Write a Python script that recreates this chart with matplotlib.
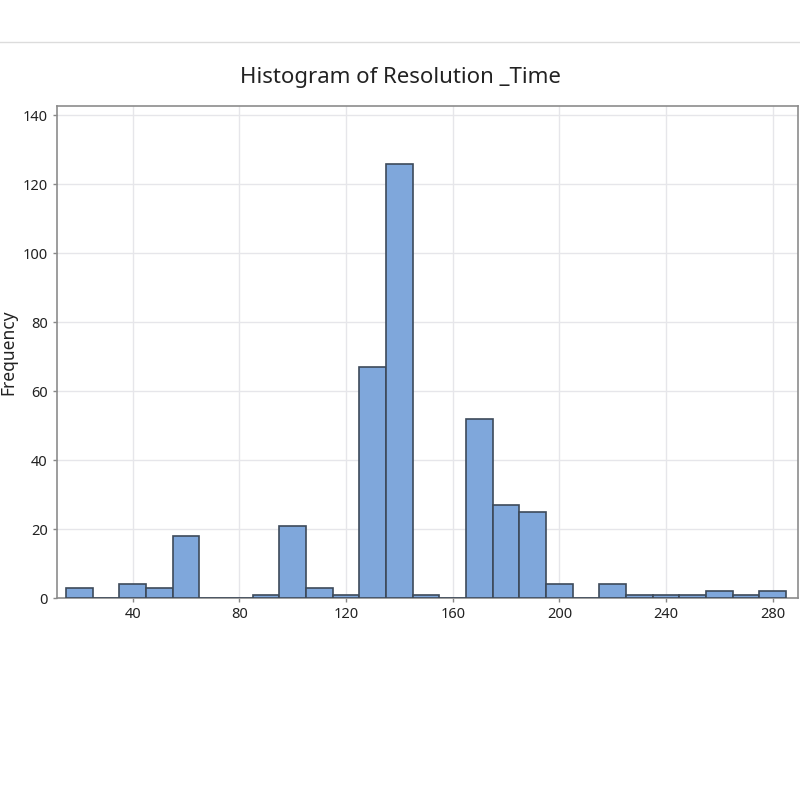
import matplotlib
matplotlib.use("Agg")
import matplotlib.pyplot as plt
from matplotlib.lines import Line2D

plt.rcParams['font.family'] = ['Noto Sans', 'DejaVu Sans']

# histogram bins (width 10) and their counts
bin_left = [15, 25, 35, 45, 55, 65, 75, 85, 95, 105, 115, 125, 135, 145,
            155, 165, 175, 185, 195, 205, 215, 225, 235, 245, 255, 265, 275]
counts = [3, 0, 4, 3, 18, 0, 0, 1, 21, 3, 1, 67, 126, 1,
          0, 52, 27, 25, 4, 0, 4, 1, 1, 1, 2, 1, 2]
bin_width = 10
x_ticks = [40, 80, 120, 160, 200, 240, 280]
y_ticks = [0, 20, 40, 60, 80, 100, 120, 140]

fig = plt.figure(figsize=(8, 8), dpi=100)
ax = fig.add_axes([0.071, 0.2525, 0.9265, 0.615])

ax.bar(bin_left, counts, width=bin_width, align='edge',
       color='#7fa7db', edgecolor='#3d4a5a', linewidth=1.2, zorder=3)

ax.set_xlim(11.5, 289.5)
ax.set_ylim(0, 142.7)
ax.set_xticks(x_ticks)
ax.set_yticks(y_ticks)
ax.grid(True, color='#e6e6ea', linewidth=1, zorder=0)
ax.tick_params(colors='#888888', labelcolor='#222222', labelsize=10.5,
               length=3, width=1)
for s in ax.spines.values():
    s.set_color('#8c8c8c')
    s.set_linewidth(1.2)

# y label placed by hand so it sits at the very left edge like the screenshot
fig.text(0.011, 0.56, 'Frequency', rotation=90, ha='center', va='center',
         fontsize=12.5, color='#222222')
fig.text(0.5, 0.903, 'Histogram of Resolution _Time', ha='center',
         va='center', fontsize=16, color='#222222')

# thin separator line at top of screenshot
fig.add_artist(Line2D([0, 1], [0.9475, 0.9475], color='#dcdcdc',
                      linewidth=1, transform=fig.transFigure))

fig.savefig('out.png', dpi=100)
